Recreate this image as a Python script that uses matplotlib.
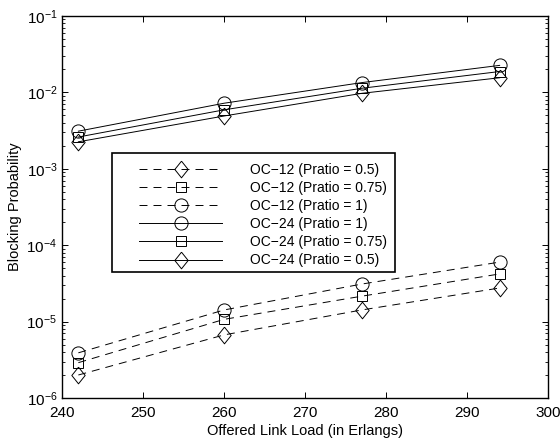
import matplotlib
matplotlib.use("Agg")
import matplotlib.pyplot as plt
import numpy as np
from matplotlib.patches import Rectangle
from matplotlib.ticker import LogLocator, NullFormatter

plt.rcParams['font.family'] = ['Liberation Sans', 'DejaVu Sans']
plt.rcParams['mathtext.fontset'] = 'custom'
plt.rcParams['mathtext.rm'] = 'Liberation Sans'
plt.rcParams['mathtext.it'] = 'Liberation Sans:italic'

load = [242, 260, 277, 294]

oc12_p05 = [2.0e-6, 6.7e-6, 1.42e-5, 2.75e-5]
oc12_p075 = [2.9e-6, 1.07e-5, 2.15e-5, 4.2e-5]
oc12_p1 = [3.9e-6, 1.42e-5, 3.1e-5, 6.0e-5]
oc24_p1 = [3.1e-3, 7.2e-3, 1.34e-2, 2.25e-2]
oc24_p075 = [2.6e-3, 5.9e-3, 1.13e-2, 1.87e-2]
oc24_p05 = [2.25e-3, 4.9e-3, 9.7e-3, 1.55e-2]

labels = ['OC\u221212 (Pratio = 0.5)', 'OC\u221212 (Pratio = 0.75)',
          'OC\u221212 (Pratio = 1)', 'OC\u221224 (Pratio = 1)',
          'OC\u221224 (Pratio = 0.75)', 'OC\u221224 (Pratio = 0.5)']

# matlab style diamond: a bit taller than wide
diamond = [(0, 1), (0.8, 0), (0, -1), (-0.8, 0), (0, 1)]

dash = (0, (8.2, 6.2))
series = [
    (oc12_p05, diamond, 12, dash),
    (oc12_p075, 's', 7.5, dash),
    (oc12_p1, 'o', 9.5, dash),
    (oc24_p1, 'o', 9.5, '-'),
    (oc24_p075, 's', 7.5, '-'),
    (oc24_p05, diamond, 12, '-'),
]

fig = plt.figure(figsize=(5.6, 4.41), dpi=100)
ax = fig.add_axes([0.111, 0.0975, 0.868, 0.8665])

for (vals, mk, ms, ls), lab in zip(series, labels):
    ax.plot(load, vals, color='black', linestyle=ls, linewidth=0.7,
            marker=mk, markersize=ms, markerfacecolor='none',
            markeredgecolor='black', markeredgewidth=0.7, label=lab)

ax.set_yscale('log')
ax.set_xlim(240, 300)
ax.set_ylim(1e-6, 1e-1)
ax.set_xticks(np.arange(240, 301, 10))
ax.yaxis.set_major_locator(LogLocator(base=10, numticks=10))
ax.yaxis.set_minor_locator(LogLocator(base=10, subs=np.arange(2, 10), numticks=20))
ax.yaxis.set_minor_formatter(NullFormatter())
ax.tick_params(which='both', direction='in', top=True, right=True, labelsize=11)
ax.tick_params(which='major', length=4, width=0.7)
ax.tick_params(which='minor', length=2.2, width=0.6)
ax.tick_params(axis='x', pad=5.5)
for sp in ax.spines.values():
    sp.set_linewidth(1.0)

ax.set_xlabel('Offered Link Load (in Erlangs)', fontsize=10.5, labelpad=3)
ax.set_ylabel('Blocking Probability', fontsize=10.5, labelpad=3)

# legend box drawn separately so the entries sit where matlab put them
ax.add_patch(Rectangle((0.102, 0.33), 0.583, 0.311, transform=ax.transAxes,
                       facecolor='white', edgecolor='black', linewidth=1.2,
                       zorder=4))
leg = ax.legend(loc='center left', bbox_to_anchor=(0.158, 0.479),
                borderaxespad=0, borderpad=0, fontsize=10,
                handlelength=6, handletextpad=2, labelspacing=0.3,
                frameon=False)
leg.set_zorder(5)

fig.savefig('out.png', dpi=100)
